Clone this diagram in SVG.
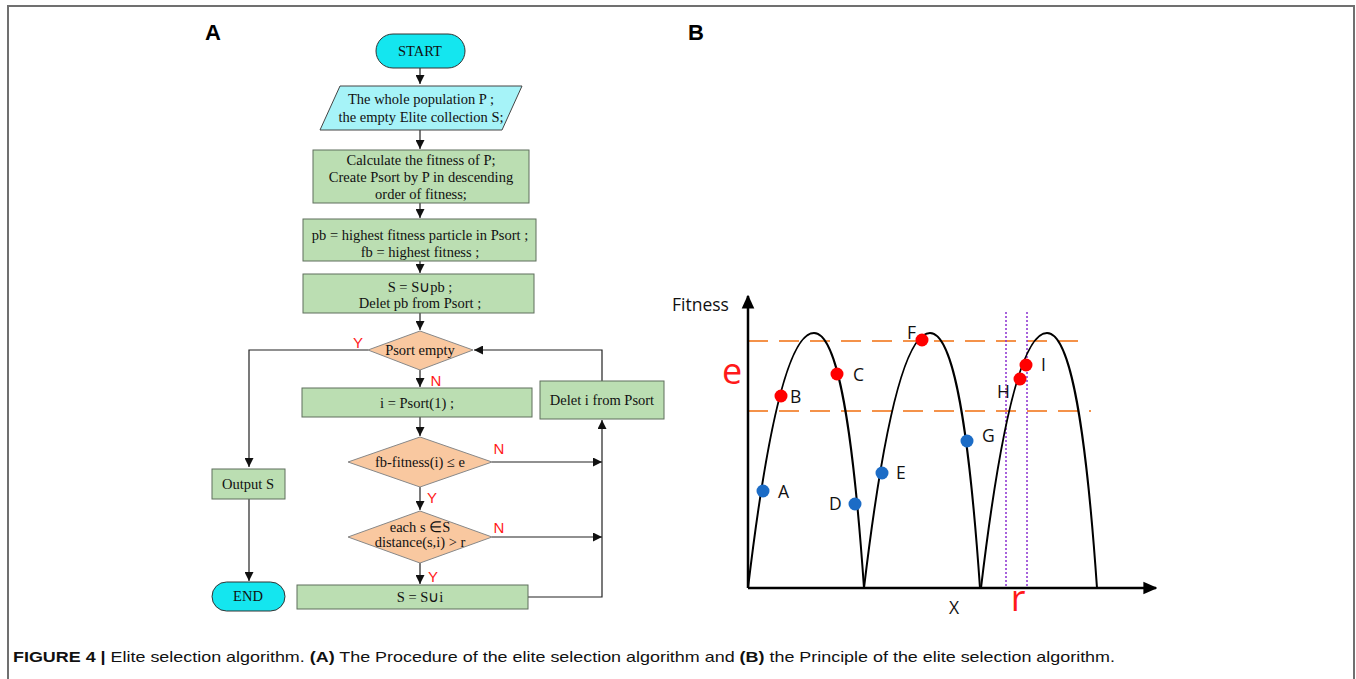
<svg xmlns="http://www.w3.org/2000/svg" width="1356" height="679" viewBox="0 0 1356 679">
  <style>
    .frame { fill: none; stroke: #707070; stroke-width: 2; }
    .panel { font-family: "Liberation Sans", Arial, sans-serif; font-weight: bold; font-size: 22px; fill: #000; }
    .fc { font-family: "Liberation Serif", "Times New Roman", serif; font-size: 14.5px; fill: #111; text-anchor: middle; }
    .term { fill: #14e6ef; stroke: #333; stroke-width: 1; }
    .io { fill: #a6f3f8; stroke: #444; stroke-width: 1; }
    .proc { fill: #bbdeb2; stroke: #5f6f5c; stroke-width: 1; }
    .dec { fill: #f9c8a0; stroke: #888; stroke-width: 1; }
    .flow { fill: none; stroke: #222; stroke-width: 1.2; }
    .yn { font-family: "Liberation Sans", Arial, sans-serif; font-size: 15px; fill: #ff1a1a; text-anchor: middle; }
    .axis { fill: none; stroke: #000; stroke-width: 2.5; }
    .arch { fill: none; stroke: #000; stroke-width: 2; }
    .level { stroke: #f4924a; stroke-width: 2; stroke-dasharray: 20 11; }
    .radius { stroke: #8b2fd0; stroke-width: 1.5; stroke-dasharray: 2 2; }
    .hit { fill: #ff0000; }
    .miss { fill: #1c6cc6; }
    .pt { font-family: "Open Sans", "Liberation Sans", sans-serif; font-size: 17.5px; fill: #111; }
    .big { font-family: "Open Sans", "Liberation Sans", sans-serif; font-size: 36px; fill: #ff1a1a; text-anchor: middle; }
    .cap { font-family: "Liberation Sans", Arial, sans-serif; font-size: 15px; fill: #111; }
  </style>
  <defs>
    <marker id="ah" viewBox="0 0 10 10" refX="10" refY="5" markerWidth="9" markerHeight="9" markerUnits="userSpaceOnUse" orient="auto">
      <path d="M0,0 L10,5 L0,10 Z" fill="#111"/>
    </marker>
    <marker id="axh" viewBox="0 0 10 10" refX="9" refY="5" markerWidth="14" markerHeight="14" markerUnits="userSpaceOnUse" orient="auto">
      <path d="M0,0.5 L10,5 L0,9.5 Z" fill="#000"/>
    </marker>
  </defs>

  <rect width="1356" height="679" fill="#fff"/>
  <!-- figure frame (open at the bottom) -->
  <path class="frame" d="M8,679 V6 H1354 V679"/>

  <text class="panel" x="213" y="40" text-anchor="middle">A</text>
  <text class="panel" x="696" y="40" text-anchor="middle">B</text>

  <!-- ===== Panel A: flowchart ===== -->
  <g id="connectors">
    <path class="flow" d="M420,68 V84" marker-end="url(#ah)"/>
    <path class="flow" d="M420,130 V149" marker-end="url(#ah)"/>
    <path class="flow" d="M420,203 V218" marker-end="url(#ah)"/>
    <path class="flow" d="M420,261 V273" marker-end="url(#ah)"/>
    <path class="flow" d="M420,313 V330" marker-end="url(#ah)"/>
    <path class="flow" d="M368,350 H249 V467" marker-end="url(#ah)"/>
    <path class="flow" d="M249,499 V581" marker-end="url(#ah)"/>
    <path class="flow" d="M420,370 V387" marker-end="url(#ah)"/>
    <path class="flow" d="M420,417 V436" marker-end="url(#ah)"/>
    <path class="flow" d="M492,462 H602" marker-end="url(#ah)"/>
    <path class="flow" d="M420,487 V510" marker-end="url(#ah)"/>
    <path class="flow" d="M492,537 H602" marker-end="url(#ah)"/>
    <path class="flow" d="M420,563 V584" marker-end="url(#ah)"/>
    <path class="flow" d="M528,597 H602 V420" marker-end="url(#ah)"/>
    <path class="flow" d="M602,381 V350 H474" marker-end="url(#ah)"/>
  </g>

  <g id="start">
    <rect class="term" x="376" y="34" width="89" height="34" rx="17"/>
    <text class="fc" x="420" y="56" font-size="15.5">START</text>
  </g>
  <g id="input">
    <polygon class="io" points="340,86 522,86 502,130 320,130"/>
    <text class="fc" x="421" y="104">The whole population P ;</text>
    <text class="fc" x="421" y="122">the empty Elite collection S;</text>
  </g>
  <g id="calc-fitness">
    <rect class="proc" x="313" y="150" width="216" height="53"/>
    <text class="fc" x="421" y="165">Calculate the fitness of P;</text>
    <text class="fc" x="421" y="182">Create Psort by P in descending</text>
    <text class="fc" x="421" y="199">order of fitness;</text>
  </g>
  <g id="best">
    <rect class="proc" x="303" y="219" width="233" height="42"/>
    <text class="fc" x="420" y="240">pb = highest fitness particle in Psort ;</text>
    <text class="fc" x="420" y="257">fb = highest fitness ;</text>
  </g>
  <g id="add-best">
    <rect class="proc" x="303" y="274" width="231" height="39"/>
    <text class="fc" x="420" y="292">S =  S∪pb ;</text>
    <text class="fc" x="420" y="308">Delet pb from Psort ;</text>
  </g>
  <g id="psort-empty">
    <polygon class="dec" points="420,331 473,350 420,370 368,350"/>
    <text class="fc" x="420" y="355">Psort empty</text>
    <text class="yn" x="358" y="348">Y</text>
    <text class="yn" x="436" y="386">N</text>
  </g>
  <g id="output">
    <rect class="proc" x="212" y="469" width="73" height="30"/>
    <text class="fc" x="248" y="489">Output S</text>
  </g>
  <g id="end">
    <rect class="term" x="212" y="582" width="73" height="29" rx="14.5"/>
    <text class="fc" x="248" y="601">END</text>
  </g>
  <g id="take-first">
    <rect class="proc" x="302" y="388" width="230" height="29"/>
    <text class="fc" x="417" y="408">i = Psort(1) ;</text>
  </g>
  <g id="delete-i">
    <rect class="proc" x="540" y="381" width="124" height="38"/>
    <text class="fc" x="602" y="405">Delet i from Psort</text>
  </g>
  <g id="fitness-check">
    <polygon class="dec" points="420,437 492,462 420,487 348,462"/>
    <text class="fc" x="420" y="467">fb-fitness(i) ≤ e</text>
    <text class="yn" x="499" y="454">N</text>
    <text class="yn" x="432" y="503">Y</text>
  </g>
  <g id="distance-check">
    <polygon class="dec" points="420,511 492,537 420,563 348,537"/>
    <text class="fc" x="420" y="532">each s ∈S</text>
    <text class="fc" x="420" y="547">distance(s,i) &gt; r</text>
    <text class="yn" x="499" y="533">N</text>
    <text class="yn" x="433" y="582">Y</text>
  </g>
  <g id="add-i">
    <rect class="proc" x="297" y="585" width="231" height="24"/>
    <text class="fc" x="420" y="602">S = S∪i</text>
  </g>

  <!-- ===== Panel B: fitness landscape ===== -->
  <g id="plot">
    <line class="level" x1="748" y1="341" x2="1088" y2="341"/>
    <line class="level" x1="748" y1="411" x2="1091" y2="411"/>
    <line class="radius" x1="1006" y1="312" x2="1006" y2="588"/>
    <line class="radius" x1="1027" y1="312" x2="1027" y2="588"/>

    <path class="arch" d="M748,588 C768,420 790,333 814,333 C838,333 853,430 864,588"/>
    <path class="arch" d="M864,588 C884,420 906,333 930,333 C954,333 969,430 980,588"/>
    <path class="arch" d="M981,588 C1001,420 1023,333 1047,333 C1071,333 1086,430 1097,588"/>

    <path class="axis" d="M748,588 V296" marker-end="url(#axh)"/>
    <path class="axis" d="M748,588 H1156" marker-end="url(#axh)"/>

    <text class="pt" x="672" y="311" font-size="19">Fitness</text>
    <text class="big" x="732" y="384">e</text>
    <text class="big" x="1018" y="611">r</text>
    <text class="pt" x="954" y="614" text-anchor="middle">X</text>

    <circle class="miss" cx="763" cy="491" r="6.5"/>
    <circle class="hit" cx="781" cy="396" r="6.5"/>
    <circle class="hit" cx="837" cy="374" r="6.5"/>
    <circle class="miss" cx="855" cy="504" r="6.5"/>
    <circle class="miss" cx="882" cy="473" r="6.5"/>
    <circle class="hit" cx="922" cy="340" r="6.5"/>
    <circle class="miss" cx="967" cy="441" r="6.5"/>
    <circle class="hit" cx="1020" cy="379" r="6.5"/>
    <circle class="hit" cx="1026" cy="365" r="6.5"/>

    <text class="pt" x="778" y="498">A</text>
    <text class="pt" x="790" y="403">B</text>
    <text class="pt" x="853" y="381">C</text>
    <text class="pt" x="829" y="510">D</text>
    <text class="pt" x="896" y="479">E</text>
    <text class="pt" x="907" y="339">F</text>
    <text class="pt" x="982" y="442">G</text>
    <text class="pt" x="997" y="398">H</text>
    <text class="pt" x="1041" y="371">I</text>
  </g>

  <text class="cap" x="13" y="662" textLength="1102" lengthAdjust="spacingAndGlyphs"><tspan font-weight="bold">FIGURE 4 |</tspan> Elite selection algorithm. <tspan font-weight="bold">(A)</tspan> The Procedure of the elite selection algorithm and <tspan font-weight="bold">(B)</tspan> the Principle of the elite selection algorithm.</text>
</svg>
